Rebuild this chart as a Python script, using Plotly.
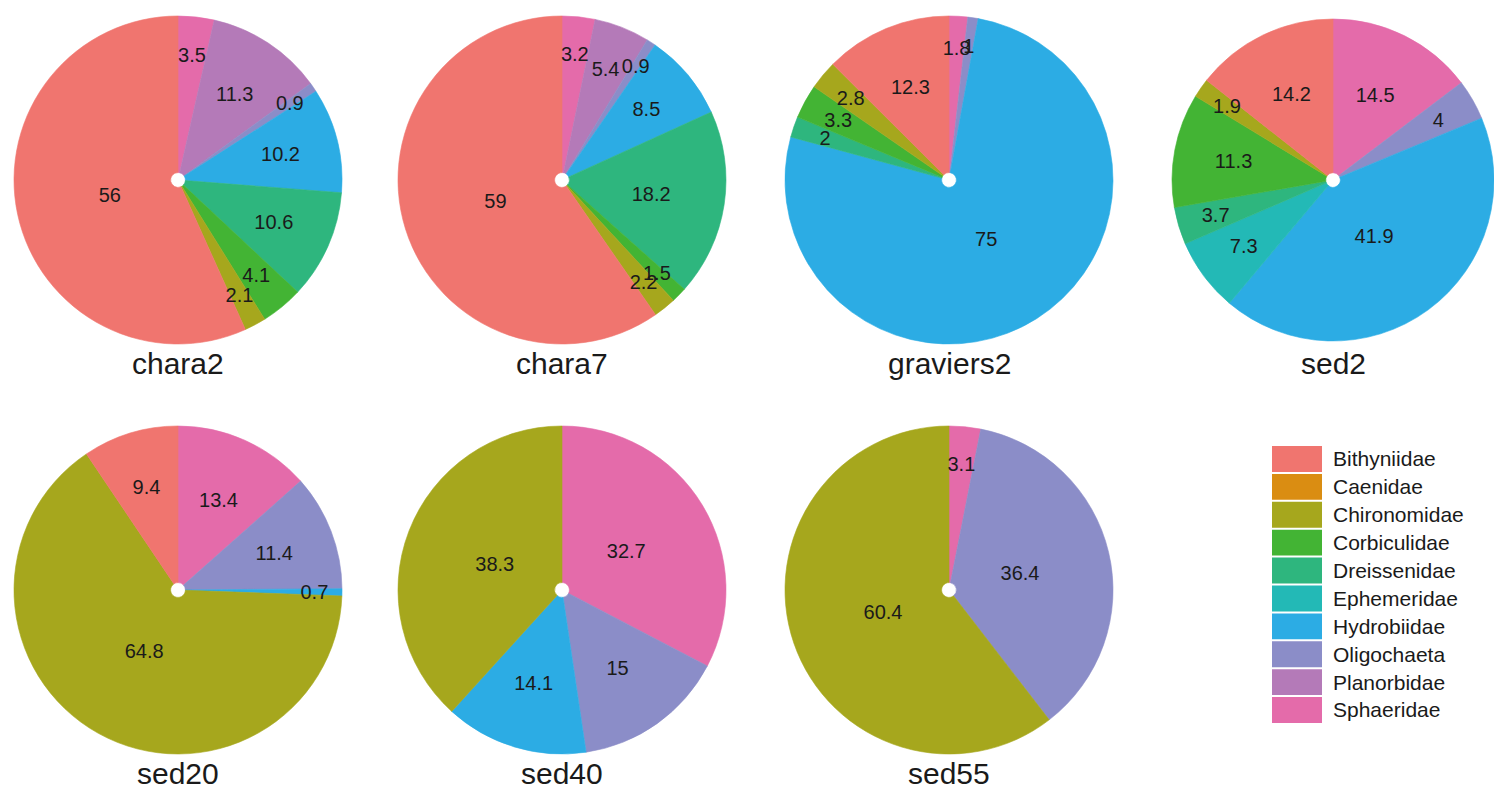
import plotly.graph_objects as go

# Macroinvertebrate families (fixed order, shared across all sites)
families = ["Bithyniidae", "Caenidae", "Chironomidae", "Corbiculidae", "Dreissenidae",
            "Ephemeridae", "Hydrobiidae", "Oligochaeta", "Planorbidae", "Sphaeridae"]
family_colors = ["#F0756F", "#DA8D12", "#A6A71D", "#43B434", "#2EB67E",
                 "#23B9B6", "#2CACE4", "#8B8DC8", "#B47AB8", "#E46BAA"]

# Relative abundance (%) per site, aligned with `families`
sites = ["chara2", "chara7", "graviers2", "sed2", "sed20", "sed40", "sed55"]
chara2 = [56, 0, 2.1, 4.1, 10.6, 0, 10.2, 0.9, 11.3, 3.5]
chara7 = [59, 0, 2.2, 1.5, 18.2, 0, 8.5, 0.9, 5.4, 3.2]
graviers2 = [12.3, 0, 2.8, 3.3, 2, 0, 75, 1, 0, 1.8]
sed2 = [14.2, 0, 1.9, 11.3, 3.7, 7.3, 41.9, 4, 0, 14.5]
sed20 = [9.4, 0, 64.8, 0, 0, 0, 0.7, 11.4, 0, 13.4]
sed40 = [0, 0, 38.3, 0, 0, 0, 14.1, 15, 0, 32.7]
sed55 = [0, 0, 60.4, 0, 0, 0, 0, 36.4, 0, 3.1]
site_values = [chara2, chara7, graviers2, sed2, sed20, sed40, sed55]

W, H = 1494, 795
FONT = "Liberation Sans, Arial, Helvetica, sans-serif"

# facet grid geometry (pixels)
col_cx = [178, 562, 949, 1333]
row_cy = [180, 590]
R = 164
LABEL_SCALE = 0.85   # labels sit on a slightly smaller concentric ring
title_offset = 183


def domain(cx, cy, r):
    return dict(x=[(cx - r) / W, (cx + r) / W],
                y=[1 - (cy + r) / H, 1 - (cy - r) / H])


fig = go.Figure()
annotations = []

for i, (site, vals) in enumerate(zip(sites, site_values)):
    cx = col_cx[i % 4]
    cy = row_cy[i // 4]
    r = min(R, W - cx)
    # stack from 12 o'clock going clockwise, last family first
    keep = [k for k in range(len(families)) if vals[k] > 0][::-1]
    labs = [families[k] for k in keep]
    vs = [vals[k] for k in keep]
    cols = [family_colors[k] for k in keep]

    # filled slices (outline in the fill colour hides anti-aliasing seams)
    fig.add_trace(go.Pie(
        labels=labs, values=vs,
        textinfo="none",
        marker=dict(colors=cols, line=dict(color=cols, width=0.6)),
        sort=False, direction="clockwise", rotation=0,
        hole=0.045,
        showlegend=False,
        hovertemplate="%{label}: %{value}<extra>" + site + "</extra>",
        domain=domain(cx, cy, r),
    ))
    # value labels on a concentric transparent ring
    fig.add_trace(go.Pie(
        labels=labs, values=vs,
        text=[f"{v:g}" for v in vs],
        textinfo="text",
        textposition="inside",
        insidetextorientation="horizontal",
        insidetextfont=dict(family=FONT, size=20, color="#1a1a1a"),
        marker=dict(colors=["rgba(0,0,0,0)"] * len(vs), line=dict(width=0)),
        sort=False, direction="clockwise", rotation=0,
        showlegend=False, hoverinfo="skip",
        domain=domain(cx, cy, r * LABEL_SCALE),
    ))
    annotations.append(dict(
        text=site, x=cx / W, y=1 - (cy + title_offset) / H,
        xref="paper", yref="paper", xanchor="center", yanchor="middle",
        showarrow=False, font=dict(family=FONT, size=30, color="#1a1a1a"),
    ))

# fill key drawn as a small categorical bar panel
fig.add_trace(go.Bar(
    x=[1] * len(families),
    y=families,
    orientation="h",
    marker=dict(color=family_colors, line=dict(width=0)),
    width=0.93,
    hoverinfo="y",
    showlegend=False,
    xaxis="x", yaxis="y",
))

fig.update_layout(
    width=W, height=H,
    margin=dict(l=0, r=0, t=0, b=0),
    paper_bgcolor="white",
    plot_bgcolor="white",
    font=dict(family=FONT, color="#1a1a1a"),
    uniformtext=dict(minsize=20, mode="show"),
    annotations=annotations,
    xaxis=dict(domain=[1272 / W, 1322 / W], range=[0, 1], visible=False,
               fixedrange=True),
    yaxis=dict(domain=[1 - 724 / H, 1 - 445 / H], type="category",
               categoryorder="array", categoryarray=families,
               autorange="reversed", side="right", anchor="x",
               showgrid=False, zeroline=False, showline=False, ticks="",
               ticklabelstandoff=10, fixedrange=True,
               tickfont=dict(family=FONT, size=21, color="#1a1a1a")),
)

fig.write_html("out.html")
